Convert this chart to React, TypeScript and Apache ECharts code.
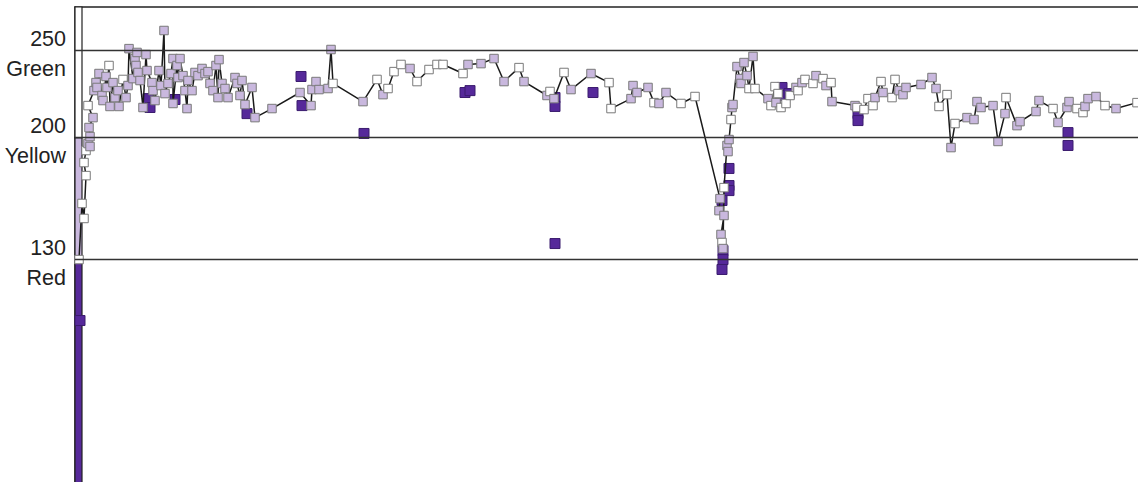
import React, { useEffect, useRef } from "react";
import * as echarts from "echarts";

// Threshold lines and their zone names
const thresholdValues = [250, 200, 130];
const thresholdNames = ["Green", "Yellow", "Red"];

// Zone key band at the left edge (value ranges)
const zoneFrom = [0, 130, 200];
const zoneTo = [130, 200, 275];
const zoneColors = ["#56299a", "#c9b8de", "#ffffff"];

// Connected readings (x = time index, y = value)
const readingX = [
  4, 7, 9, 11, 9, 11, 13, 15, 15, 14,
  18, 13, 19, 21, 22, 24, 27, 28, 31, 32,
  34, 35, 38, 40, 43, 44, 48, 51, 53, 54,
  58, 60, 61, 62, 63, 65, 68, 71, 72, 77,
  78, 80, 84, 86, 89, 90, 93, 96, 98, 98,
  102, 103, 105, 108, 110, 112, 113, 117, 120, 123,
  127, 130, 133, 135, 138, 141, 143, 144, 147, 150,
  153, 160, 162, 165, 167, 170, 177, 180, 197, 225,
  236, 237, 241, 244, 253, 256, 258, 288, 302, 308,
  313, 319, 326, 335, 342, 354, 362, 368, 388, 393,
  406, 419, 429, 444, 449, 472, 475, 479, 489, 496,
  516, 534, 536, 556, 558, 562, 573, 579, 584, 591,
  606, 620, 645, 644, 649, 646, 647, 648, 649, 652,
  653, 654, 656, 657, 658, 662, 665, 666, 669, 672,
  674, 678, 680, 693, 696, 700, 701, 703, 706, 711,
  715, 721, 723, 727, 730, 738, 741, 748, 751, 756,
  757, 780, 782, 789, 793, 798, 800, 806, 808, 817,
  820, 824, 828, 831, 846, 857, 861, 864, 872, 876,
  880, 892, 899, 902, 906, 918, 923, 930, 931, 942,
  945, 961, 964, 978, 983, 992, 994, 1002, 1008, 1010,
  1013, 1021, 1030, 1041, 1062,
];
const readingY = [
  130.0, 162.2, 153.6, 178.2, 185.7, 192.6, 196.6, 194.9, 200.6, 205.8,
  211.5, 218.4, 227.0, 231.6, 228.8, 236.8, 224.2, 221.3, 235.1, 228.8,
  241.4, 217.9, 231.6, 223.0, 227.0, 217.9, 233.4, 223.0, 229.9, 251.1,
  233.9, 245.4, 241.4, 248.9, 237.4, 232.8, 217.3, 247.7, 238.5, 231.6,
  227.0, 221.3, 238.5, 229.9, 261.5, 225.3, 231.1, 236.8, 245.4, 219.6,
  241.4, 234.5, 245.4, 235.6, 227.0, 216.7, 232.8, 227.0, 237.4, 235.6,
  239.7, 236.8, 237.9, 231.1, 227.0, 241.4, 223.0, 244.8, 231.1, 228.2,
  223.0, 234.5, 231.1, 224.2, 232.8, 219.0, 228.8, 211.5, 216.7, 225.9,
  218.4, 227.6, 232.2, 227.6, 228.2, 250.6, 231.1, 220.7, 233.4, 224.7,
  228.2, 237.9, 242.0, 239.7, 232.2, 239.1, 242.0, 242.0, 236.8, 242.0,
  242.5, 245.4, 232.2, 240.2, 232.2, 224.2, 226.5, 222.4, 237.4, 227.6,
  236.8, 231.6, 216.7, 222.4, 229.9, 225.9, 228.8, 220.1, 219.6, 225.9,
  219.6, 223.6, 165.0, 158.1, 155.3, 144.4, 139.8, 136.3, 171.3, 195.5,
  192.0, 198.9, 210.4, 217.3, 219.0, 240.8, 233.9, 231.1, 243.1, 235.6,
  228.2, 246.6, 228.2, 222.4, 218.4, 229.3, 220.1, 225.3, 217.3, 219.6,
  224.2, 228.8, 227.0, 231.6, 233.4, 231.1, 235.6, 233.9, 229.9, 231.6,
  220.7, 218.4, 217.3, 216.1, 222.4, 218.4, 223.0, 232.2, 225.9, 223.0,
  233.4, 227.0, 224.7, 228.8, 230.5, 234.5, 228.2, 217.9, 224.7, 194.3,
  208.1, 211.5, 210.4, 220.7, 217.3, 218.4, 197.8, 213.8, 223.0, 206.9,
  209.2, 215.0, 221.3, 216.7, 208.7, 217.3, 220.7, 216.7, 214.4, 217.9,
  222.4, 223.6, 218.4, 216.7, 220.1,
];
// w = open marker, p = filled (light) marker
const readingKind = [
  "wwwwwwpppp", "pwpppppppp", "wpppppwppp", "pppppppppp", "pppppppppp",
  "pppppppppp", "pppppppppp", "pppppppppp", "ppppppwpwp", "wwwpwwwwwp",
  "pppwppwpwp", "pwwppppwpp", "wwppppwpwp", "ppwppppppp", "wpwpwwpwww",
  "wpwpwwpwpw", "ppwwwwpwpw", "wppppppwwp", "wpppppppwp", "pppwpppwwp",
  "ppwpw",
].join("").split("");

// Separate (unconnected) flagged readings
const flagX = [
  5, 73, 75, 100, 172, 226, 227, 289, 390, 395,
  480, 480, 518, 480, 647, 654, 654, 654, 648, 648,
  647, 707, 707, 714, 783, 783, 993, 993,
];
const flagY = [
  95.0, 222.4, 217.3, 221.9, 213.8, 235.1, 218.4, 202.4, 225.9, 227.0,
  223.0, 217.9, 225.9, 139.2, 163.9, 182.3, 172.5, 169.6, 135.2, 130.0,
  124.3, 228.8, 224.2, 225.3, 213.8, 209.8, 202.9, 195.5,
];

const X_MAX = 1090;
const Y_MAX = 275;
const BAND_W = 7;

const LIGHT = "#c9b8de";
const DARK = "#56299a";

export default function App() {
  const ref = useRef<HTMLDivElement>(null);

  useEffect(() => {
    if (!ref.current) return;
    const chart = echarts.init(ref.current, undefined, { renderer: "svg" });

    const labelFormatter = (v: number) => {
      const i = thresholdValues.indexOf(v);
      return i >= 0 ? `{s| }\n{t|${v}}\n{t|${thresholdNames[i]}}` : "";
    };

    const fontFamily = "'Liberation Sans', Arial, Helvetica, sans-serif";

    chart.setOption({
      animation: false,
      backgroundColor: "#ffffff",
      grid: { left: 75, top: 7, right: 15, bottom: 14, containLabel: false },
      xAxis: {
        type: "value",
        position: "top",
        min: 0,
        max: X_MAX,
        axisLine: { show: true, onZero: false, lineStyle: { color: "#222", width: 1.5 } },
        axisTick: { show: false },
        axisLabel: { show: false },
        splitLine: { show: false },
      },
      yAxis: {
        type: "value",
        min: 0,
        max: Y_MAX,
        axisLine: { show: true, onZero: false, lineStyle: { color: "#222", width: 1.5 } },
        axisTick: { show: false },
        splitLine: { show: false },
        axisLabel: {
          customValues: thresholdValues,
          formatter: labelFormatter,
          margin: 9,
          rich: {
            s: { fontSize: 2, lineHeight: 6, fontFamily },
            t: { fontSize: 21.5, lineHeight: 30, fontFamily, color: "#222" },
          },
        },
      },
      series: [
        {
          type: "line",
          data: [],
          silent: true,
          z: 1,
          markArea: {
            silent: true,
            data: zoneFrom.map((f, i) => [
              {
                xAxis: 0,
                yAxis: f,
                itemStyle: { color: zoneColors[i], borderColor: "#222", borderWidth: 1.2, opacity: 1 },
              },
              { xAxis: BAND_W, yAxis: zoneTo[i] },
            ]),
          },
          markLine: {
            silent: true,
            symbol: "none",
            label: { show: false },
            lineStyle: { color: "#333", width: 1.3, type: "solid" },
            data: thresholdValues.map((v) => ({ yAxis: v })),
          },
        },
        {
          type: "scatter",
          z: 2,
          symbol: "rect",
          symbolSize: 10,
          silent: true,
          itemStyle: { color: DARK, borderColor: "#3b1c6e", borderWidth: 1, opacity: 1 },
          data: flagX.map((x, i) => [x, flagY[i]]),
        },
        {
          type: "line",
          z: 3,
          symbol: "rect",
          symbolSize: 8.5,
          showAllSymbol: true,
          silent: true,
          lineStyle: { color: "#1a1a1a", width: 1.5 },
          itemStyle: { borderColor: "#7a7a7a", borderWidth: 1 },
          data: readingX.map((x, i) => ({
            value: [x, readingY[i]],
            itemStyle: {
              color: readingKind[i] === "w" ? "#ffffff" : LIGHT,
              borderColor: "#7a7a7a",
              borderWidth: 1,
            },
          })),
        },
      ],
    });

    return () => chart.dispose();
  }, []);

  return (
    <div style={{ position: "fixed", left: 0, top: 0, width: 1138, height: 482, overflow: "hidden", background: "#fff" }}>
      <div ref={ref} style={{ width: 1180, height: 500 }} />
    </div>
  );
}
